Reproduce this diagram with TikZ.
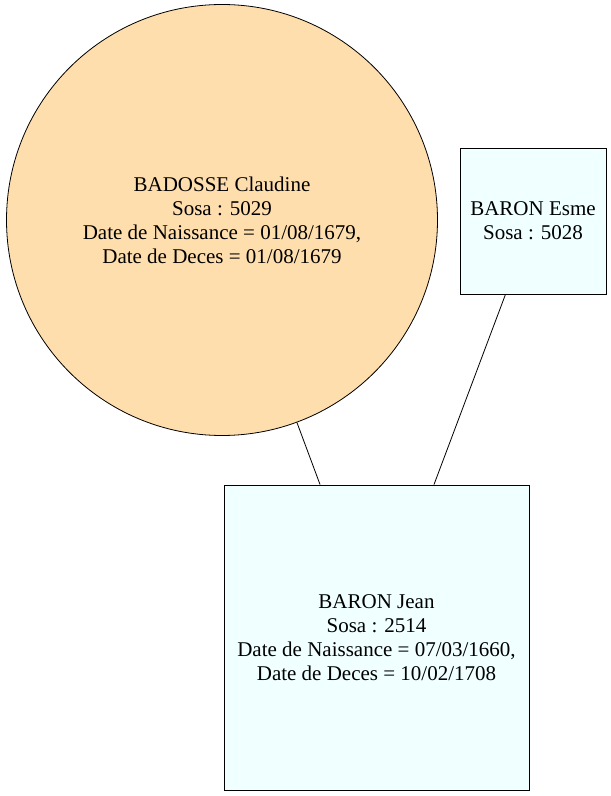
\documentclass[tikz,border=0pt]{standalone}
\usepackage{fontspec}
\setmainfont{Liberation Serif}
\definecolor{navajo}{HTML}{FFDEAD}
\definecolor{azurec}{HTML}{F0FFFF}
\begin{document}
\begin{tikzpicture}[x=1pt,y=1pt,
  person/.style={draw=black,line width=0.8pt,align=center,inner sep=0pt,
    font=\fontsize{21}{24}\selectfont},
  circ/.style={person,circle,fill=navajo,minimum size=431pt},
  sq/.style={person,rectangle,fill=azurec},
  edge/.style={draw=black,line width=0.8pt}]
\useasboundingbox (0,0) rectangle (611,796);
\node[circ] (claudine) at (222,576) {BADOSSE Claudine\\Sosa : 5029\\Date de Naissance = 01/08/1679,\\Date de Deces = 01/08/1679};
\node[sq,minimum width=146pt,minimum height=146pt] (esme) at (533,575) {BARON Esme\\Sosa : 5028};
\node[sq,minimum width=305pt,minimum height=305pt] (jean) at (376.5,158.5) {BARON Jean\\Sosa : 2514\\Date de Naissance = 07/03/1660,\\Date de Deces = 10/02/1708};
\draw[edge] (jean) -- (claudine);
\draw[edge] (jean) -- (esme);
\end{tikzpicture}
\end{document}
